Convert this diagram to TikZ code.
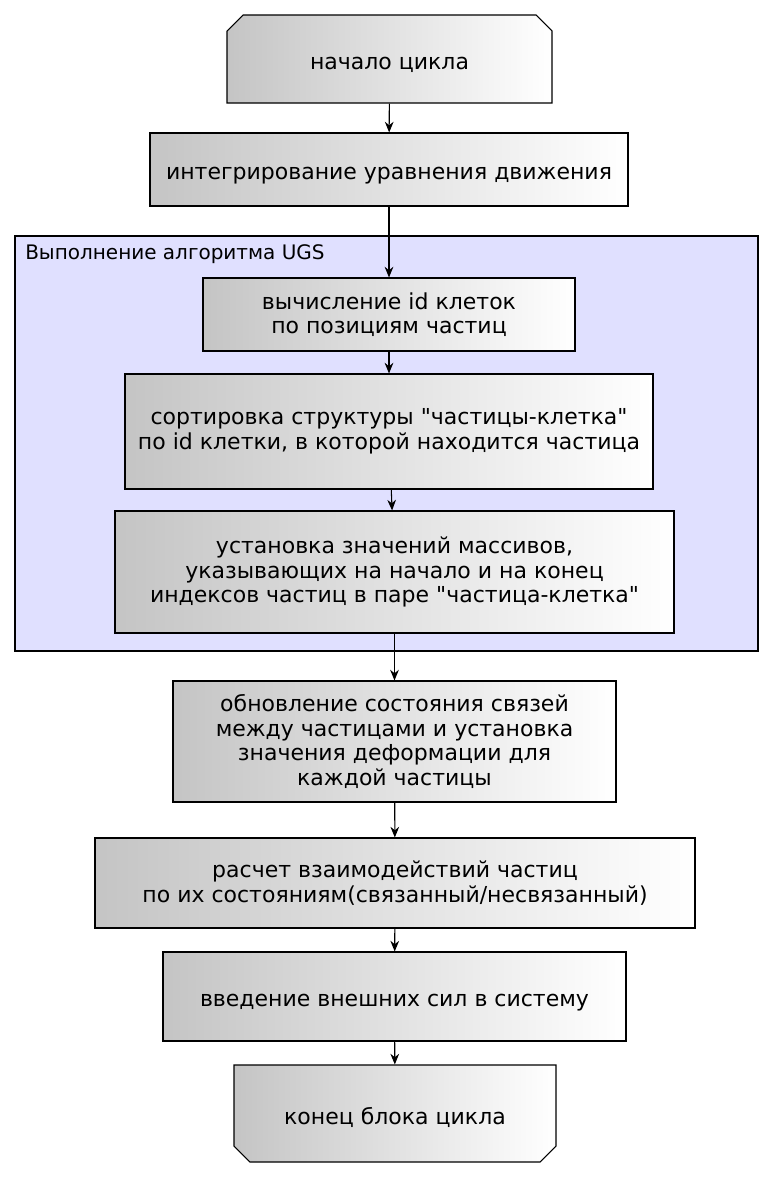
\documentclass[tikz,border=0pt]{standalone}
\usepackage{fontspec}
\setmainfont{DejaVu Sans}[Ligatures=TeXOff]
\usetikzlibrary{shapes.misc,arrows.meta}

\begin{document}
\begin{tikzpicture}[x=0.75pt,y=-0.75pt,
  blk/.style 2 args={draw, line width=0.8pt, left color=black!23, right color=white,
    align=center, inner sep=0pt, minimum width=#1*0.75pt, minimum height=#2*0.75pt,
    font=\fontsize{16.5}{18.4}\selectfont, execute at begin node={\rule{0pt}{18.5pt}}},
  cham/.style={chamfered rectangle, chamfered rectangle xsep=6pt, chamfered rectangle ysep=6pt},
  edge/.style={draw, line width=0.8pt, -{Stealth[length=8pt,width=6.5pt]}}]
\useasboundingbox (0,0) rectangle (774,1178);

% group of the UGS algorithm
\node[draw, line width=0.8pt, fill=blue!12, inner sep=0pt, minimum width=743*0.75pt, minimum height=415*0.75pt] (ugs) at (386.5,443.5) {};
\node[anchor=base west, inner sep=0pt, font=\fontsize{15}{17}\selectfont] (ugstitle) at (25,259) {Выполнение алгоритма UGS};

\node[blk={325}{88}, cham, chamfered rectangle corners={north west,north east}] (start) at (389.5,59) {начало цикла};
\node[blk={478}{73}] (integ) at (389,169.5) {интегрирование уравнения движения};
\node[blk={372}{73}] (cellid) at (389,314.5) {вычисление id клеток\\по позициям частиц};
\node[blk={528}{115}] (sort) at (389,431.5) {сортировка структуры "частицы-клетка"\\по id клетки, в которой находится частица};
\node[blk={559}{122}] (bounds) at (394.5,572) {установка значений массивов,\\указывающих на начало и на конец\\индексов частиц в паре "частица-клетка"};
\node[blk={443}{121}] (links) at (394.5,741.5) {обновление состояния связей\\между частицами и установка\\значения деформации для\\каждой частицы};
\node[blk={600}{90}] (forces) at (395,883) {расчет взаимодействий частиц\\по их состояниям(связанный/несвязанный)};
\node[blk={463}{89}] (extern) at (394.5,996.5) {введение внешних сил в систему};
\node[blk={322}{97}, cham, chamfered rectangle corners={south west,south east}] (stop) at (395,1113.5) {конец блока цикла};

\path[edge] (start) -- (integ);
\path[edge] (integ) -- (cellid);
\path[edge] (cellid) -- (sort);
\path[edge] (sort) -- (bounds);
\path[edge] (bounds) -- (links);
\path[edge] (links) -- (forces);
\path[edge] (forces) -- (extern);
\path[edge] (extern) -- (stop);
\end{tikzpicture}
\end{document}
